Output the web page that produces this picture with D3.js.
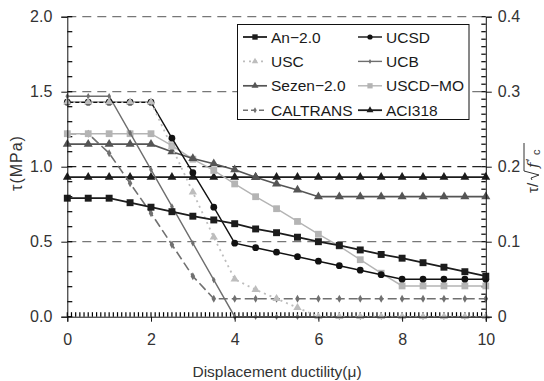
<!DOCTYPE html>
<html lang="en">
<head>
  <meta charset="UTF-8" />
  <title>Shear strength vs displacement ductility</title>
  <script src="https://d3js.org/d3.v7.min.js"></script>
  <style>
    body { margin: 0; background: white; }
    svg { display: block; font-family: "Liberation Sans", Arial, sans-serif; }
    .tick text { fill: #333; font-size: 16px; }
    .axis path, .axis line { stroke: #111; stroke-width: 1; }
    .legend text { font-size: 15.5px; fill: #1a1a1a; }
  </style>
</head>
<body>
<svg width="544" height="381"></svg>
<script>
  // displacement ductility steps
  const mu = [0, 0.5, 1, 1.5, 2, 2.5, 3, 3.5, 4, 4.5, 5, 5.5, 6, 6.5, 7, 7.5, 8, 8.5, 9, 9.5, 10];

  // shear strength tau (MPa) per model
  const an20     = [0.79, 0.79, 0.79, 0.76, 0.73, 0.70, 0.67, 0.645, 0.62, 0.585, 0.56, 0.53, 0.50, 0.475, 0.445, 0.415, 0.39, 0.36, 0.33, 0.30, 0.27];
  const ucsd     = [1.43, 1.43, 1.43, 1.43, 1.43, 1.19, 0.96, 0.73, 0.49, 0.46, 0.43, 0.40, 0.37, 0.34, 0.31, 0.28, 0.25, 0.25, 0.25, 0.25, 0.25];
  const usc      = [1.43, 1.43, 1.43, 1.43, 1.43, 1.13, 0.83, 0.53, 0.25, 0.18, 0.12, 0.06, 0, 0, 0, 0, 0, 0, 0, 0, 0];
  const ucb      = [1.47, 1.47, 1.47, 1.225, 0.98, 0.735, 0.49, 0.245, 0, 0, 0, 0, 0, 0, 0, 0, 0, 0, 0, 0, 0];
  const sezen20  = [1.15, 1.15, 1.15, 1.15, 1.15, 1.10, 1.055, 1.02, 0.98, 0.93, 0.885, 0.845, 0.80, 0.80, 0.80, 0.80, 0.80, 0.80, 0.80, 0.80, 0.80];
  const usdcMo   = [1.22, 1.22, 1.22, 1.22, 1.22, 1.14, 1.05, 0.975, 0.885, 0.80, 0.72, 0.635, 0.55, 0.47, 0.38, 0.29, 0.205, 0.205, 0.205, 0.205, 0.205];
  const caltrans = [1.22, 1.22, 1.09, 0.89, 0.69, 0.48, 0.27, 0.12, 0.12, 0.12, 0.12, 0.12, 0.12, 0.12, 0.12, 0.12, 0.12, 0.12, 0.12, 0.12, 0.12];
  const aci318   = [0.93, 0.93, 0.93, 0.93, 0.93, 0.93, 0.93, 0.93, 0.93, 0.93, 0.93, 0.93, 0.93, 0.93, 0.93, 0.93, 0.93, 0.93, 0.93, 0.93, 0.93];

  const xTicks = [0, 2, 4, 6, 8, 10];
  const yTicks = [0, 0.5, 1.0, 1.5, 2.0];
  const y2Ticks = [0, 0.1, 0.2, 0.3, 0.4];
  const xMinor = d3.range(0, 101).map(d => d / 10);
  const yMinor = d3.range(0, 21).map(d => d / 10);
  const y2Minor = d3.range(0, 41).map(d => d / 100);

  const svg = d3.select("svg");
  const margin = { left: 67.3, right: 58.2, top: 16.7, bottom: 64.3 };
  const width = +svg.attr("width");
  const height = +svg.attr("height");

  const x = d3.scaleLinear().domain([0, 10]).range([margin.left, width - margin.right]);
  const y = d3.scaleLinear().domain([0, 2]).range([height - margin.bottom, margin.top]);
  const y2 = d3.scaleLinear().domain([0, 0.4]).range([height - margin.bottom, margin.top]);

  // dashed grid lines
  svg.append("g").selectAll("line")
    .data(yTicks.filter(d => d > 0))
    .enter().append("line")
    .attr("x1", x(0)).attr("x2", x(10))
    .attr("y1", d => y(d)).attr("y2", d => y(d))
    .attr("stroke", d => d === 1 ? "#222" : "#777")
    .attr("stroke-width", 1.2)
    .attr("stroke-dasharray", "9,6");

  // minor ticks, pointing into the frame
  const minor = svg.append("g")
    .attr("stroke", "#000")
    .attr("stroke-width", 1.2);
  minor.selectAll(null)
    .data(xMinor)
    .enter().append("line")
    .attr("x1", d => x(d)).attr("x2", d => x(d))
    .attr("y1", y(0)).attr("y2", y(0) - 4.5);
  minor.selectAll(null)
    .data(yMinor)
    .enter().append("line")
    .attr("x1", x(0)).attr("x2", x(0) + 5)
    .attr("y1", d => y(d)).attr("y2", d => y(d));
  minor.selectAll(null)
    .data(y2Minor)
    .enter().append("line")
    .attr("x1", x(10)).attr("x2", x(10) - 4.5)
    .attr("y1", d => y2(d)).attr("y2", d => y2(d));

  // series styles
  const series = [
    { name: "ACI318",    values: aci318,   color: "#1c1c1c", w: 1.8, dash: null,  sym: d3.symbolTriangle, size: 34 },
    { name: "CALTRANS",  values: caltrans, color: "#707070", w: 1.6, dash: "9,4", sym: d3.symbolDiamond,  size: 18 },
    { name: "USCD-MO",   values: usdcMo,   color: "#b4b4b4", w: 1.4, dash: null,  sym: d3.symbolSquare,   size: 46 },
    { name: "Sezen-2.0", values: sezen20,  color: "#555555", w: 1.7, dash: null,  sym: d3.symbolTriangle, size: 36 },
    { name: "UCB",       values: ucb,      color: "#6e6e6e", w: 1.4, dash: null,  sym: d3.symbolDiamond,  size: 12 },
    { name: "UCSD",      values: ucsd,     color: "#111111", w: 1.4, dash: null,  sym: d3.symbolCircle,   size: 36 },
    { name: "USC",       values: usc,      color: "#bdbdbd", w: 1.8, dash: "2,4", sym: d3.symbolTriangle, size: 30 },
    { name: "An-2.0",    values: an20,     color: "#1c1c1c", w: 1.8, dash: null,  sym: d3.symbolSquare,   size: 48 }
  ];

  const line = d3.line().x(d => x(d[0])).y(d => y(d[1]));

  series.forEach(s => {
    const pts = mu.map((m, i) => [m, s.values[i]]);
    const g = svg.append("g");
    g.append("path")
      .datum(pts)
      .attr("d", line)
      .attr("fill", "none")
      .attr("stroke", s.color)
      .attr("stroke-width", s.w)
      .attr("stroke-dasharray", s.dash);
    g.selectAll("path.m")
      .data(pts)
      .enter().append("path")
      .attr("class", "m")
      .attr("d", d3.symbol().type(s.sym).size(s.size))
      .attr("transform", d => `translate(${x(d[0])},${y(d[1])})`)
      .attr("fill", s.color);
  });

  // axes, major ticks outward
  svg.append("g").attr("class", "axis")
    .attr("transform", `translate(0,${y(0)})`)
    .call(d3.axisBottom(x).tickValues(xTicks).tickSize(5).tickPadding(12).tickFormat(d3.format("d")));

  svg.append("g").attr("class", "axis")
    .attr("transform", `translate(${x(0)},0)`)
    .call(d3.axisLeft(y).tickValues(yTicks).tickSize(6).tickPadding(9).tickFormat(d3.format(".1f")));

  svg.append("g").attr("class", "axis")
    .attr("transform", `translate(${x(10)},0)`)
    .call(d3.axisRight(y2).tickValues(y2Ticks).tickSize(6).tickPadding(6).tickFormat(d => d === 0 ? "0" : d3.format(".1f")(d)));

  // axis titles
  svg.append("text")
    .attr("x", (x(0) + x(10)) / 2 + 0.5)
    .attr("y", 377)
    .attr("text-anchor", "middle")
    .attr("font-size", 15.5)
    .attr("fill", "#333")
    .text("Displacement ductility(\u03bc)");

  svg.append("text")
    .attr("transform", "translate(22,163) rotate(-90)")
    .attr("text-anchor", "middle")
    .attr("font-size", 16)
    .attr("letter-spacing", 1)
    .attr("fill", "#333")
    .text("\u03c4(MPa)");

  const rt = svg.append("g").attr("transform", "translate(538,168) rotate(-90)").attr("fill", "#333");
  rt.append("text").attr("x", -25).attr("y", 0).attr("font-size", 15).text("\u03c4/");
  rt.append("path")
    .attr("d", "M-12,-6 L-10,-7 L-7,1 L-3,-14 L25,-14")
    .attr("fill", "none").attr("stroke", "#333").attr("stroke-width", 1);
  rt.append("text").attr("x", 0).attr("y", 0).attr("font-size", 15)
    .attr("font-style", "italic").attr("font-family", "'DejaVu Serif', serif").text("f");
  rt.append("text").attr("x", 7).attr("y", -3).attr("font-size", 12).text("\u2032");
  rt.append("text").attr("x", 13).attr("y", 2).attr("font-size", 11).text("c");

  // legend
  const legend = svg.append("g").attr("class", "legend");
  legend.append("rect")
    .attr("x", 237.5).attr("y", 24.5).attr("width", 231.5).attr("height", 95)
    .attr("fill", "white").attr("stroke", "#111").attr("stroke-width", 1);

  const legendOrder = ["An-2.0", "UCSD", "USC", "UCB", "Sezen-2.0", "USCD-MO", "CALTRANS", "ACI318"];
  legendOrder.forEach((name, i) => {
    const s = series.find(d => d.name === name);
    const lx = i % 2 === 0 ? 243 : 358;
    const ly = 37 + Math.floor(i / 2) * 24.4;
    legend.append("line")
      .attr("x1", lx).attr("x2", lx + 24).attr("y1", ly).attr("y2", ly)
      .attr("stroke", s.color).attr("stroke-width", s.w)
      .attr("stroke-dasharray", s.dash === "9,4" ? "5,3" : s.dash);
    legend.append("path")
      .attr("d", d3.symbol().type(s.sym).size(s.size * 0.6))
      .attr("transform", `translate(${lx + 12},${ly})`)
      .attr("fill", s.color);
    legend.append("text")
      .attr("x", lx + 28).attr("y", ly + 5.5)
      .text(name.replace("-", "\u2212"));
  });
</script>
</body>
</html>
